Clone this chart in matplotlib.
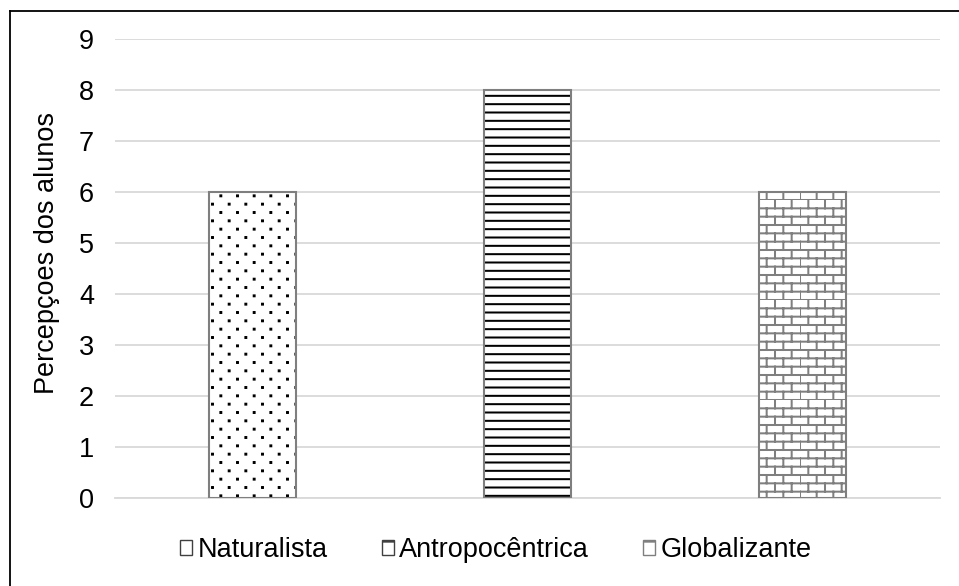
import matplotlib

matplotlib.use("Agg")

import numpy as np
import matplotlib.pyplot as plt
import matplotlib.hatch as mhatch
import matplotlib.patches as mpatches
from matplotlib.lines import Line2D
from matplotlib.path import Path

categorias = ["Naturalista", "Antropocêntrica", "Globalizante"]
valores = [6, 8, 6]
y_ticks = [0, 1, 2, 3, 4, 5, 6, 7, 8, 9]


# padrão de tijolos: reaproveita o caractere '*' no lugar das estrelas
class BrickHatch(mhatch.HatchPatternBase):
    def __init__(self, hatch, density):
        self.cols = hatch.count("*") * density
        self.rows = self.cols * 2
        self.num_vertices = (self.rows * 2 + self.rows * self.cols * 2) if self.cols else 0

    def set_vertices_and_codes(self, vertices, codes):
        v = []
        for i in range(self.rows):
            y = i / self.rows
            v += [(0.0, y), (1.0, y)]
        for i in range(self.rows):
            y0 = i / self.rows
            y1 = (i + 1) / self.rows
            off = 0.5 * (i % 2)
            for j in range(self.cols):
                x = ((j + off) / self.cols) % 1.0
                v += [(x, y0), (x, y1)]
        vertices[:] = np.array(v)
        codes[0::2] = Path.MOVETO
        codes[1::2] = Path.LINETO


# pontilhado esparso e alternado (como o do Excel), no lugar de '.'
class DotHatch(mhatch.HatchPatternBase):
    size = 0.009

    def __init__(self, hatch, density):
        self.cols = hatch.count(".") * density
        self.rows = self.cols * 2
        self.num_vertices = self.rows * self.cols * 5

    def set_vertices_and_codes(self, vertices, codes):
        s = self.size / 2
        v = []
        for i in range(self.rows):
            # afastado das bordas do ladrilho para não cortar os pontos
            y = (i + 0.5) / self.rows
            off = 0.25 + 0.5 * (i % 2)
            for j in range(self.cols):
                x = (j + off) / self.cols
                v += [(x - s, y - s), (x + s, y - s), (x + s, y + s), (x - s, y + s), (x - s, y - s)]
        vertices[:] = np.array(v)
        codes[:] = Path.LINETO
        codes[0::5] = Path.MOVETO
        codes[4::5] = Path.CLOSEPOLY


mhatch._hatch_types = [t for t in mhatch._hatch_types
                       if t not in (mhatch.Stars, mhatch.SmallFilledCircles)] + [BrickHatch, DotHatch]

plt.rcParams["font.family"] = ["Liberation Sans", "DejaVu Sans"]
plt.rcParams["hatch.linewidth"] = 1.45

hatches = [".", "--", "*"]
hatch_cores = ["black", "black", "#7f7f7f"]
borda = "#7f7f7f"
fs = 19.5

fig = plt.figure(figsize=(9.59, 5.86), dpi=100)
ax = fig.add_axes([0.1199, 0.1502, 0.8603, 0.7832])

x = np.arange(len(categorias))
for i in range(len(categorias)):
    # hachura (cor da hachura = edgecolor) e depois a borda cinza por cima
    ax.bar(x[i], valores[i], width=0.313, color="white", hatch=hatches[i],
           edgecolor=hatch_cores[i], linewidth=0, zorder=2)
    ax.bar(x[i], valores[i], width=0.313, fill=False, edgecolor=borda,
           linewidth=1.5, zorder=3)

ax.set_xlim(-0.5, 2.5)
ax.set_ylim(0, 9)
ax.set_yticks(y_ticks)
ax.set_xticks([])
ax.tick_params(axis="y", length=0, labelsize=fs, pad=15)
ax.grid(axis="y", color="#d9d9d9", linewidth=1.3, zorder=0)
ax.set_axisbelow(True)
for s in ["top", "right", "left"]:
    ax.spines[s].set_visible(False)
ax.spines["bottom"].set_color("#d9d9d9")
ax.spines["bottom"].set_linewidth(1.3)

ax.set_ylabel("Percepçoes dos alunos", fontsize=fs)
ax.yaxis.set_label_coords(-0.067, 0.534)

handles = [mpatches.Patch(facecolor="white", edgecolor=c, hatch=h, linewidth=1)
           for h, c in zip(["", "-", "+"], ["#404040", "#404040", "#7f7f7f"])]
fig.legend(handles, categorias, loc="center", bbox_to_anchor=(0.517, 0.061),
           ncol=3, frameon=False, fontsize=fs, handlelength=0.45, handleheight=0.45,
           handletextpad=0.2, columnspacing=2.0)

# moldura recortada: só esquerda e topo
fig.add_artist(Line2D([9.5 / 959, 9.5 / 959], [0, 1 - 10.5 / 586], color="black",
                      linewidth=1.3, transform=fig.transFigure))
fig.add_artist(Line2D([9.5 / 959, 1], [1 - 10.5 / 586, 1 - 10.5 / 586], color="black",
                      linewidth=1.3, transform=fig.transFigure))

fig.savefig("out.png", dpi=100)
